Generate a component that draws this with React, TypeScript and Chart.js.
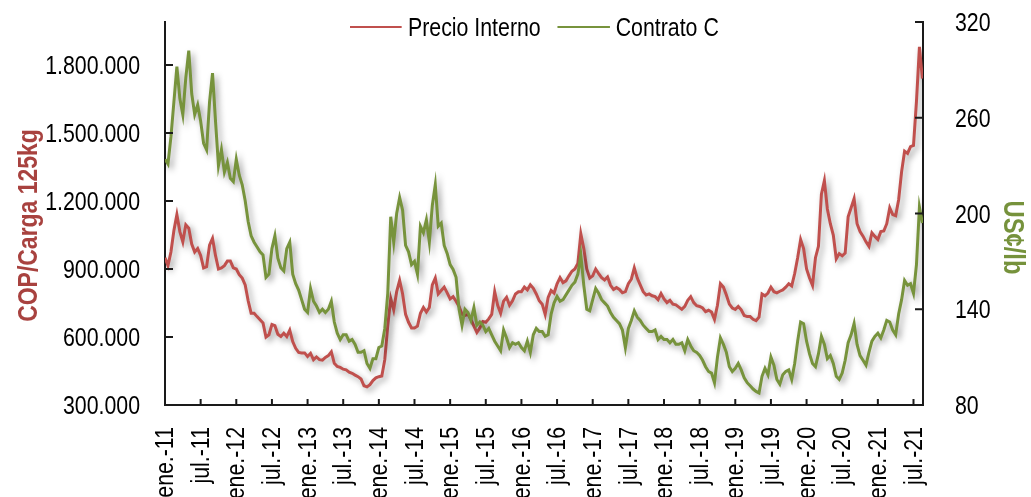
import React, { useEffect, useRef } from 'react';
import { Chart, registerables } from 'chart.js';

Chart.register(...registerables);

const BASE_FONT = '"Liberation Sans", Arial, sans-serif';
const NARROW = 0.82; // horizontal compression to mimic a narrow face

const POINTS_PER_MONTH = 2; // semi-monthly readings starting ene-2011
const LAST_MONTH = 127.6;

const xTickMonths = [0, 6, 12, 18, 24, 30, 36, 42, 48, 54, 60, 66, 72, 78, 84, 90, 96, 102, 108, 114, 120, 126];
const xTickLabels = [
  'ene.-11', 'jul.-11', 'ene.-12', 'jul.-12', 'ene.-13', 'jul.-13', 'ene.-14', 'jul.-14',
  'ene.-15', 'jul.-15', 'ene.-16', 'jul.-16', 'ene.-17', 'jul.-17', 'ene.-18', 'jul.-18',
  'ene.-19', 'jul.-19', 'ene.-20', 'jul.-20', 'ene.-21', 'jul.-21',
];
const leftTicks = [300, 600, 900, 1200, 1500, 1800];
const leftTickLabels = ['300.000', '600.000', '900.000', '1.200.000', '1.500.000', '1.800.000'];
const rightTicks = [80, 140, 200, 260, 320];
const rightTickLabels = ['80', '140', '200', '260', '320'];
const leftTitle = 'COP/Carga 125kg';
const rightTitle = 'US¢/lb';
const seriesNames = ['Precio Interno', 'Contrato C'];

// Precio Interno (miles de COP / carga 125 kg)
const precioInterno = [
  950, 915, 975, 1070, 1140, 1065, 1020, 1095, 1080, 1010, 975, 990, 960, 905, 910, 1005, 1035, 960, 900, 905, 915, 935, 935, 905,
  900, 875, 860, 830, 760, 705, 705, 690, 676, 662, 600, 610, 655, 650, 612, 602, 617, 602, 630, 580, 550, 532, 530, 530,
  514, 528, 500, 512, 500, 498, 510, 518, 535, 484, 470, 466, 458, 455, 445, 440, 432, 425, 415, 385, 380, 390, 408, 420,
  425, 428, 500, 650, 770, 720, 800, 850, 790, 700, 665, 640, 640, 648, 705, 730, 710, 730, 830, 860, 790, 805, 820, 795,
  768, 778, 758, 735, 700, 695, 700, 678, 648, 620, 640, 668, 665, 680, 700, 800, 740, 705, 758, 775, 740, 760, 790, 800,
  800, 820, 808, 830, 815, 790, 760, 745, 700, 775, 805, 794, 835, 862, 840, 848, 870, 890, 900, 925, 1055, 990, 900, 860,
  870, 900, 880, 862, 852, 865, 828, 810, 818, 810, 795, 800, 835, 855, 905, 860, 830, 800, 785, 790, 782, 778, 765, 792,
  768, 752, 762, 745, 742, 732, 722, 735, 762, 778, 752, 738, 735, 728, 712, 718, 710, 678, 740, 835, 820, 785, 745, 728,
  722, 735, 720, 695, 690, 690, 678, 672, 688, 790, 782, 794, 820, 800, 795, 802, 808, 820, 835, 825, 880, 950, 1030, 990,
  900, 860, 828, 950, 1000, 1230, 1290, 1165, 1100, 1050, 945, 968, 958, 970, 1130, 1170, 1210, 1100, 1065, 1045, 1020, 1000, 1060, 1044,
  1030, 1065, 1068, 1100, 1170, 1140, 1135, 1206, 1330, 1420, 1410, 1440, 1445, 1640, 1880, 1740,
];

// Contrato C (US¢/lb)
const contratoC = [
  234, 231, 248, 270, 292, 272, 262, 285, 302, 275, 262, 268, 258, 244, 240, 270, 288, 258, 230, 240, 226, 232, 222, 220,
  234, 224, 218, 208, 195, 186, 182, 179, 176, 174, 160, 162, 178, 186, 172, 166, 164, 178, 182, 162, 156, 152, 146, 140,
  138, 153, 145, 142, 138, 140, 138, 140, 145, 132, 125, 121, 124, 124, 120, 121, 118, 113, 113, 114, 106, 103, 109, 109,
  116, 117, 128, 150, 198, 182, 200, 210, 202, 180, 176, 168, 170, 162, 192, 188, 196, 182, 205, 218, 192, 194, 180, 175,
  168, 165, 160, 140, 130, 140, 138, 133, 141, 130, 132, 130, 126, 128, 124, 120, 117, 114, 127, 122, 116, 119, 118, 119,
  116, 114, 120, 113, 124, 128, 126, 126, 123, 124, 137, 144, 148, 145, 146, 149, 152, 155, 157, 162, 174, 155, 140, 139,
  146, 153, 150, 146, 144, 142, 138, 135, 133, 131, 127, 116, 128, 133, 139, 135, 133, 130, 128, 126, 126, 127, 121, 123,
  121, 121, 119, 121, 118, 118, 119, 114, 121, 117, 114, 113, 111, 108, 104, 101, 100, 94, 110, 122, 118, 113, 104, 101,
  103, 106, 102, 97, 94, 92, 90, 88.5, 87.5, 98, 103, 99, 110, 105, 96, 93, 99, 101, 102, 96, 106, 120, 132, 131,
  120, 112, 106, 104, 112, 123, 118, 109, 111, 106, 98, 96, 100, 108, 119, 124, 131, 118, 111, 108, 105, 113, 120, 123,
  125, 122, 127, 133, 132, 127, 124, 137, 146, 158, 155, 156, 150, 168, 204, 194,
];

const RED = '#C0504D';
const GREEN = '#77933C';
const RED_TITLE = '#A8423F';
const GREEN_TITLE = '#76923C';
const AXIS = '#1a1a1a';

function drawNarrowText(
  ctx: CanvasRenderingContext2D,
  text: string,
  x: number,
  y: number,
  align: CanvasTextAlign,
  rotation: number,
  font: string,
  color: string,
) {
  ctx.save();
  ctx.translate(x, y);
  if (rotation) ctx.rotate(rotation);
  ctx.scale(NARROW, 1);
  ctx.font = font;
  ctx.fillStyle = color;
  ctx.textAlign = align;
  ctx.textBaseline = 'middle';
  ctx.fillText(text, 0, 0);
  ctx.restore();
}

const shadowPlugin = {
  id: 'lineShadow',
  beforeDatasetsDraw(chart: any) {
    const c = chart.ctx;
    c.save();
    c.shadowColor = 'rgba(0,0,0,0.38)';
    c.shadowBlur = 6;
    c.shadowOffsetX = 3;
    c.shadowOffsetY = 3;
  },
  afterDatasetsDraw(chart: any) {
    chart.ctx.restore();
  },
};

const axisDecorPlugin = {
  id: 'axisDecor',
  afterDraw(chart: any) {
    const { ctx, chartArea: a, scales, width } = chart;
    // inner tick marks
    ctx.save();
    ctx.strokeStyle = AXIS;
    ctx.lineWidth = 2;
    ctx.beginPath();
    scales.yL.ticks.forEach((t: any) => {
      const y = scales.yL.getPixelForValue(t.value);
      ctx.moveTo(a.left, y);
      ctx.lineTo(a.left + 8, y);
    });
    scales.yR.ticks.forEach((t: any) => {
      const y = scales.yR.getPixelForValue(t.value);
      ctx.moveTo(a.right, y);
      ctx.lineTo(a.right - 8, y);
    });
    scales.x.ticks.forEach((t: any) => {
      const x = scales.x.getPixelForValue(t.value);
      ctx.moveTo(x, a.bottom);
      ctx.lineTo(x, a.bottom - 6);
    });
    ctx.stroke();
    ctx.restore();

    const tickFont = `26px ${BASE_FONT}`;
    scales.yL.ticks.forEach((t: any) => {
      const i = leftTicks.indexOf(t.value);
      if (i < 0) return;
      drawNarrowText(ctx, leftTickLabels[i], a.left - 25, scales.yL.getPixelForValue(t.value) + 2, 'right', 0, tickFont, '#000');
    });
    scales.yR.ticks.forEach((t: any) => {
      const i = rightTicks.indexOf(t.value);
      if (i < 0) return;
      drawNarrowText(ctx, rightTickLabels[i], a.right + 32, scales.yR.getPixelForValue(t.value) + 2, 'left', 0, tickFont, '#000');
    });
    scales.x.ticks.forEach((t: any) => {
      const i = xTickMonths.indexOf(t.value);
      if (i < 0) return;
      drawNarrowText(ctx, xTickLabels[i], scales.x.getPixelForValue(t.value) + 1, a.bottom + 22, 'right', -Math.PI / 2, tickFont, '#000');
    });

    const midY = (a.top + a.bottom) / 2;
    drawNarrowText(ctx, leftTitle, 29, midY + 12, 'center', -Math.PI / 2, `bold 28px ${BASE_FONT}`, RED_TITLE);
    drawNarrowText(ctx, rightTitle, width - 19, midY + 24, 'center', Math.PI / 2, `bold 29px ${BASE_FONT}`, GREEN_TITLE);
  },
};

export default function App() {
  const ref = useRef<HTMLCanvasElement | null>(null);

  useEffect(() => {
    document.body.style.margin = '0';
    const canvas = ref.current;
    if (!canvas) return;
    const chart = new Chart(canvas, {
      type: 'line',
      data: {
        datasets: [
          {
            label: seriesNames[0],
            data: precioInterno.map((v, i) => ({ x: i / POINTS_PER_MONTH, y: v })),
            borderColor: RED,
            backgroundColor: RED,
            borderWidth: 3,
            pointRadius: 0,
            tension: 0,
            yAxisID: 'yL',
            order: 2,
          },
          {
            label: seriesNames[1],
            data: contratoC.map((v, i) => ({ x: i / POINTS_PER_MONTH, y: v })),
            borderColor: GREEN,
            backgroundColor: GREEN,
            borderWidth: 3,
            pointRadius: 0,
            tension: 0,
            yAxisID: 'yR',
            order: 1,
          },
        ],
      },
      options: {
        responsive: false,
        animation: false,
        events: [],
        layout: { padding: { top: 22, left: 0, right: 0, bottom: 0 } },
        plugins: { legend: { display: false }, tooltip: { enabled: false } },
        scales: {
          x: {
            type: 'linear',
            min: 0,
            max: LAST_MONTH,
            afterBuildTicks: (s: any) => {
              s.ticks = xTickMonths.map((v) => ({ value: v }));
            },
            afterFit: (s: any) => {
              s.height = 92;
            },
            ticks: { display: false },
            grid: { display: false, drawTicks: false },
            border: { display: true, color: AXIS, width: 2 },
          },
          yL: {
            type: 'linear',
            position: 'left',
            min: 300,
            max: 1990,
            afterBuildTicks: (s: any) => {
              s.ticks = leftTicks.map((v) => ({ value: v }));
            },
            afterFit: (s: any) => {
              s.width = 165;
            },
            ticks: { display: false },
            grid: { display: false, drawTicks: false },
            border: { display: true, color: AXIS, width: 2 },
          },
          yR: {
            type: 'linear',
            position: 'right',
            min: 80,
            max: 320,
            afterBuildTicks: (s: any) => {
              s.ticks = rightTicks.map((v) => ({ value: v }));
            },
            afterFit: (s: any) => {
              s.width = 108;
            },
            ticks: { display: false },
            grid: { display: false, drawTicks: false },
            border: { display: true, color: AXIS, width: 2 },
          },
        },
      } as any,
      plugins: [shadowPlugin, axisDecorPlugin],
    });
    return () => chart.destroy();
  }, []);

  const lineStyle = (color: string, extra: any) => ({
    display: 'inline-block',
    width: 52 / NARROW,
    height: 2,
    background: color,
    ...extra,
  });

  return (
    <div style={{ position: 'relative', width: 1031, height: 497, overflow: 'hidden' }}>
      <canvas ref={ref} width={1031} height={497} style={{ display: 'block', width: 1031, height: 497 }} />
      <div
        style={{
          position: 'absolute',
          left: 350,
          top: 12,
          height: 30,
          display: 'flex',
          alignItems: 'center',
          fontFamily: BASE_FONT,
          fontSize: 26,
          color: '#000',
          whiteSpace: 'nowrap',
          lineHeight: '30px',
          transform: `scaleX(${NARROW})`,
          transformOrigin: '0 50%',
        }}
      >
        <span style={lineStyle(RED, { marginRight: 6 / NARROW })} />
        <span>{seriesNames[0]}</span>
        <span style={lineStyle(GREEN, { marginLeft: 17 / NARROW, marginRight: 6 / NARROW })} />
        <span>{seriesNames[1]}</span>
      </div>
    </div>
  );
}
